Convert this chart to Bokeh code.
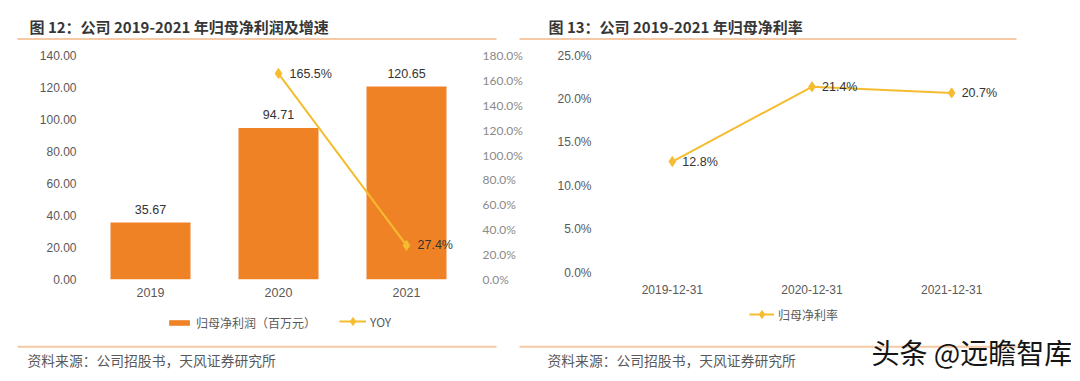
from bokeh.plotting import figure
from bokeh.models import (Range1d, FactorRange, LinearAxis, FixedTicker,
                          PrintfTickFormatter, Legend, LegendItem)
from bokeh.layouts import column, row
from bokeh.core.properties import value
from bokeh.embed import file_html
from bokeh.resources import INLINE

# ---------------- data ----------------
years = ["2019", "2020", "2021"]
profit = [35.67, 94.71, 120.65]          # 归母净利润（百万元）
yoy_years = ["2020", "2021"]
yoy = [165.5, 27.4]                       # YOY %
profit_ticks = [0, 20, 40, 60, 80, 100, 120, 140]
yoy_ticks = [0, 20, 40, 60, 80, 100, 120, 140, 160, 180]

margin_dates = ["2019-12-31", "2020-12-31", "2021-12-31"]
margin = [12.8, 21.4, 20.7]               # 归母净利率 %
margin_ticks = [0, 5, 10, 15, 20, 25]

title_left = "图 12：公司 2019-2021 年归母净利润及增速"
title_right = "图 13：公司 2019-2021 年归母净利率"
source_text = "资料来源：公司招股书，天风证券研究所"
legend_bar = "归母净利润（百万元）"
legend_yoy = "YOY"
legend_margin = "归母净利率"
watermark = "头条 @远瞻智库"

# ---------------- style ----------------
BAR = "#F08226"
LINE = "#F5BC2F"
RULE = "#F5C9A5"
NUM = "Liberation Sans"
CJK = "Noto Sans CJK SC"
GRAY = "#595959"
DARK = "#333333"
X0 = 1  # page origin of the layout


def bare(p):
    p.outline_line_color = None
    p.grid.visible = False
    p.background_fill_color = "white"
    p.border_fill_color = "white"


def style_axis(ax, standoff, color=GRAY, font=NUM):
    ax.axis_line_color = None
    ax.major_tick_line_color = None
    ax.minor_tick_line_color = None
    ax.major_tick_out = 0
    ax.major_tick_in = 0
    ax.minor_tick_out = 0
    ax.minor_tick_in = 0
    ax.major_label_standoff = standoff
    ax.major_label_text_font = font
    ax.major_label_text_font_size = "12px"
    ax.major_label_text_color = color


# ---------------- header ----------------
hdr = figure(width=1071, height=47, x_range=Range1d(X0, 1072), y_range=Range1d(48, X0),
             output_backend="svg", toolbar_location=None, min_border=0, title=None,
             x_axis_location=None, y_axis_location=None)
bare(hdr)
hdr.segment(x0=[18, 520], y0=[39.5, 39.5], x1=[497, 1017], y1=[39.5, 39.5],
            line_color=RULE, line_width=2)
hdr.text(x=[30, 549], y=[27, 27], text=[title_left, title_right],
         text_font=value(CJK), text_font_size="15px", text_font_style="bold",
         text_color="#363636", text_baseline="middle", text_align="left")

# ---------------- left chart ----------------
p1 = figure(width=539, height=255, x_range=FactorRange(factors=years), y_range=Range1d(0, 140),
            output_backend="svg", toolbar_location=None, title=None,
            min_border_left=86, min_border_right=69, min_border_top=8, min_border_bottom=23)
bare(p1)
p1.extra_y_ranges = {"yoy": Range1d(0, 180)}
p1.yaxis[0].ticker = FixedTicker(ticks=profit_ticks)
p1.yaxis[0].formatter = PrintfTickFormatter(format="%.2f")
style_axis(p1.yaxis[0], 10)
style_axis(p1.xaxis[0], 8)
p1.xaxis[0].major_label_text_font_size = "12.5px"
rax = LinearAxis(y_range_name="yoy", ticker=FixedTicker(ticks=yoy_ticks),
                 formatter=PrintfTickFormatter(format="%.1f%%"))
style_axis(rax, 12, color="#8a8a8a", font="Lato")
p1.add_layout(rax, "right")

p1.vbar(x=years, top=profit, width=0.625, color=BAR, line_color=None)
p1.text(x=years, y=profit, text=[f"{v:.2f}" for v in profit], text_align="center",
        text_baseline="middle", y_offset=-13, text_font=value(NUM),
        text_font_size="12.5px", text_color=DARK)
p1.line(x=yoy_years, y=yoy, y_range_name="yoy", line_color=LINE, line_width=2)
p1.scatter(x=yoy_years, y=yoy, y_range_name="yoy", marker="diamond", size=10,
           color=LINE, line_color=LINE)
p1.text(x=yoy_years, y=yoy, y_range_name="yoy", text=[f"{v:.1f}%" for v in yoy],
        text_align="left", text_baseline="middle", x_offset=11, text_font=value(NUM),
        text_font_size="12.5px", text_color=DARK)

# ---------------- right chart ----------------
p2 = figure(width=532, height=255, x_range=FactorRange(factors=margin_dates),
            y_range=Range1d(-0.77, 25),
            output_backend="svg", toolbar_location=None, title=None,
            min_border_left=63, min_border_right=50, min_border_top=8, min_border_bottom=23)
bare(p2)
p2.yaxis[0].ticker = FixedTicker(ticks=margin_ticks)
p2.yaxis[0].formatter = PrintfTickFormatter(format="%.1f%%")
style_axis(p2.yaxis[0], 11)
style_axis(p2.xaxis[0], 5)
p2.line(x=margin_dates, y=margin, line_color=LINE, line_width=2)
p2.scatter(x=margin_dates, y=margin, marker="diamond", size=10, color=LINE, line_color=LINE)
p2.text(x=margin_dates, y=margin, text=[f"{v:.1f}%" for v in margin], text_align="left",
        text_baseline="middle", x_offset=10, text_font=value(NUM),
        text_font_size="12.5px", text_color=DARK)

# ---------------- footer ----------------
ftr = figure(width=1071, height=70, x_range=Range1d(X0, 1072), y_range=Range1d(373, 303),
             output_backend="svg", toolbar_location=None, min_border=0, title=None,
             x_axis_location=None, y_axis_location=None)
bare(ftr)
ftr.segment(x0=[18, 520], y0=[347.3, 347.3], x1=[497, 1017], y1=[347.3, 347.3],
            line_color=RULE, line_width=2)
ftr.text(x=[28, 548], y=[360, 360], text=[source_text, source_text],
         text_font=value(CJK), text_font_size="13.8px", text_color=GRAY,
         text_baseline="middle", text_align="left")
ftr.text(x=[872], y=[352], text=[watermark], text_font=value(CJK), text_font_size="28px",
         text_color="#151515", text_baseline="middle", text_align="left")

# legend proxies (kept outside the visible range)
rb = ftr.vbar(x=[-500], top=[-500], width=1, color=BAR, line_color=None)
rl = ftr.line(x=[-500, -400], y=[-500, -500], line_color=LINE, line_width=2)
rs = ftr.scatter(x=[-500], y=[-500], marker="diamond", color=LINE, line_color=LINE)


def mk_legend(items, loc, gw, gh, lh):
    lg = Legend(items=items, location=loc, orientation="horizontal",
                glyph_width=gw, glyph_height=gh, label_height=lh, label_standoff=4,
                padding=0, margin=0, spacing=0, border_line_color=None,
                background_fill_alpha=0, label_text_font=CJK,
                label_text_font_size="12px", label_text_color=GRAY)
    ftr.add_layout(lg)
    return lg


mk_legend([LegendItem(label=legend_bar, renderers=[rb])], (166 - X0 + 1, 41), 26, 7, 7)
mk_legend([LegendItem(label=legend_yoy, renderers=[rl, rs])], (339 - X0 + 1, 41), 27, 20, 20)
mk_legend([LegendItem(label=legend_margin, renderers=[rl, rs])], (749 - X0 + 1, 48), 25, 20, 20)

layout = column(hdr, row(p1, p2, spacing=0), ftr, spacing=0)
open("out.html", "w").write(file_html(layout, INLINE))
